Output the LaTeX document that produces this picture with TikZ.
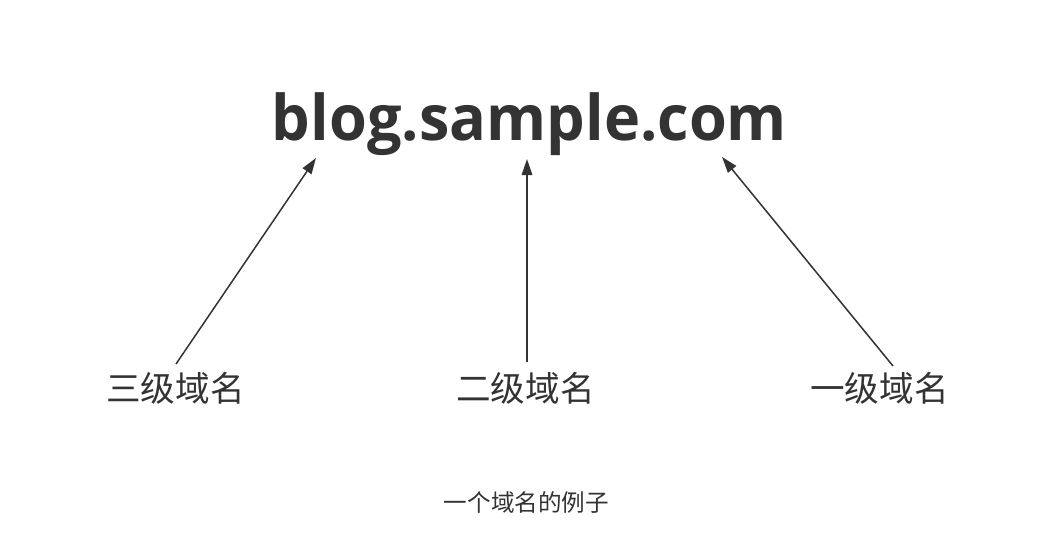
\documentclass[tikz,border=0pt]{standalone}
\usepackage{fontspec}
\usepackage{graphicx}
\usetikzlibrary{arrows.meta}
\setmainfont{Open Sans}
\newfontfamily\cjk{Noto Sans CJK SC}
\definecolor{ink}{HTML}{333333}
\begin{document}
\begin{tikzpicture}[x=1pt,y=-1pt,
  lbl/.style={text=ink,inner sep=0pt,font=\cjk\fontsize{34.6}{40}\selectfont},
  captext/.style={text=ink,inner sep=0pt,font=\cjk\fontsize{23.6}{28}\selectfont},
  arr/.style={draw=ink,line width=1.5pt,-{Triangle[length=16pt,width=10.5pt]}}]
\useasboundingbox (0,0) rectangle (1056,548);
\node[text=ink,inner sep=0pt,anchor=north] (title) at (529.5,92)
  {\resizebox*{515pt}{63pt}{\bfseries blog.sample.com}};
\node[lbl] (l3) at (175.5,388) {三级域名};
\node[lbl] (l2) at (525.5,388) {二级域名};
\node[lbl] (l1) at (879.5,388) {一级域名};
\node[captext] (caption) at (526.5,502) {一个域名的例子};
\coordinate (s3) at (176,364);
\coordinate (t3) at (316,158);
\coordinate (s2) at (527,362);
\coordinate (t2) at (527,159);
\coordinate (s1) at (893,366);
\coordinate (t1) at (722,157);
\draw[arr] (s3) -- (t3);
\draw[arr] (s2) -- (t2);
\draw[arr] (s1) -- (t1);
\end{tikzpicture}
\end{document}
